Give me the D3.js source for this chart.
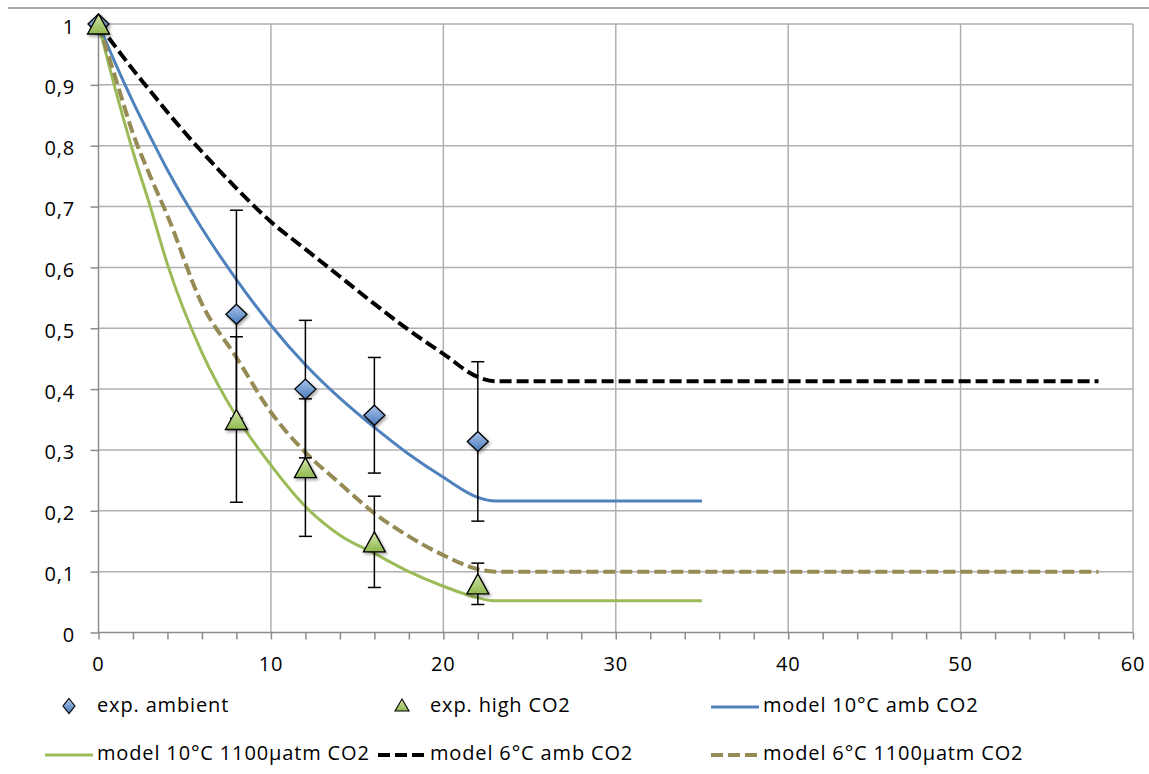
<!DOCTYPE html>
<html>
<head>
<meta charset="utf-8">
<script src="https://cdn.jsdelivr.net/npm/d3@7"></script>
<style>
  html, body { margin: 0; padding: 0; background: #fff; }
  svg { display: block; }
  text { font-family: "Open Sans", "DejaVu Sans", sans-serif; fill: #000; letter-spacing: 0.85px; }
</style>
</head>
<body>
<svg id="chart" width="1149" height="774"></svg>
<script>
// ---------- data ----------
const xTickValues = [0, 10, 20, 30, 40, 50, 60];
const xMinorTicks = d3.range(0, 61, 2);
const yTickValues = [0, 0.1, 0.2, 0.3, 0.4, 0.5, 0.6, 0.7, 0.8, 0.9, 1];
const yTickLabels = ["0", "0,1", "0,2", "0,3", "0,4", "0,5", "0,6", "0,7", "0,8", "0,9", "1"];

const expDays = [0, 8, 12, 16, 22];
const expAmbient = [1, 0.523, 0.400, 0.357, 0.314];
const expAmbientErr = [0, 0.171, 0.113, 0.095, 0.131];
const expHigh = [1, 0.350, 0.271, 0.149, 0.080];
const expHighErr = [0, 0.136, 0.113, 0.075, 0.034];

const modelDays35 = [0, 1, 2, 3, 4, 6, 8, 10, 12, 14, 16, 18, 20, 22, 23, 35];
const modelDays58 = [0, 1, 2, 3, 4, 6, 8, 10, 12, 14, 16, 18, 20, 22, 23, 58];
const model10Amb  = [1, 0.934, 0.872, 0.815, 0.760, 0.664, 0.580, 0.505, 0.440, 0.385, 0.337, 0.293, 0.255, 0.222, 0.216, 0.216];
const model10High = [1, 0.890, 0.790, 0.700, 0.605, 0.460, 0.355, 0.275, 0.207, 0.160, 0.130, 0.100, 0.076, 0.057, 0.052, 0.052];
const model6Amb   = [1, 0.962, 0.925, 0.890, 0.855, 0.790, 0.730, 0.675, 0.630, 0.585, 0.540, 0.497, 0.458, 0.420, 0.413, 0.413];
const model6High  = [1, 0.910, 0.820, 0.750, 0.685, 0.540, 0.452, 0.362, 0.296, 0.245, 0.196, 0.158, 0.127, 0.104, 0.100, 0.100];

const legendLabels = ["exp. ambient", "exp. high CO2", "model 10°C amb CO2",
                      "model 10°C 1100µatm CO2", "model 6°C amb CO2", "model 6°C 1100µatm CO2"];

// ---------- setup ----------
const svg = d3.select("#chart");
const x = d3.scaleLinear().domain([0, 60]).range([98.5, 1133]);
const y = d3.scaleLinear().domain([0, 1]).range([632.5, 24]);

const defs = svg.append("defs");
const f = defs.append("filter").attr("id", "shadow").attr("x", "-50%").attr("y", "-50%").attr("width", "200%").attr("height", "200%");
f.append("feDropShadow").attr("dx", 1.5).attr("dy", 2).attr("stdDeviation", 1.6).attr("flood-color", "#000").attr("flood-opacity", 0.35);

const gBlue = defs.append("linearGradient").attr("id", "gBlue").attr("x1", 0).attr("y1", 0).attr("x2", 0).attr("y2", 1);
gBlue.append("stop").attr("offset", "0%").attr("stop-color", "#a9c4ea");
gBlue.append("stop").attr("offset", "100%").attr("stop-color", "#4a7bbd");
const gGreen = defs.append("linearGradient").attr("id", "gGreen").attr("x1", 0).attr("y1", 0).attr("x2", 0).attr("y2", 1);
gGreen.append("stop").attr("offset", "0%").attr("stop-color", "#d3e6ac");
gGreen.append("stop").attr("offset", "100%").attr("stop-color", "#8fb84d");

// top rule
svg.append("line").attr("x1", 8).attr("x2", 1149).attr("y1", 8).attr("y2", 8)
  .attr("stroke", "#8c8c8c").attr("stroke-width", 1.5);

// gridlines
svg.append("g").selectAll("line").data(yTickValues.filter(d => d > 0)).join("line")
  .attr("x1", x(0)).attr("x2", x(60)).attr("y1", d => y(d)).attr("y2", d => y(d))
  .attr("stroke", "#b0b0b0").attr("stroke-width", 1.5);
svg.append("g").selectAll("line").data(xTickValues.filter(d => d > 0)).join("line")
  .attr("x1", d => x(d)).attr("x2", d => x(d)).attr("y1", y(1)).attr("y2", y(0))
  .attr("stroke", "#b0b0b0").attr("stroke-width", 1.5);

// axes
const xAxis = d3.axisBottom(x).tickValues(xMinorTicks).tickSize(7).tickFormat("");
const gx = svg.append("g").attr("transform", `translate(0,${y(0)})`).call(xAxis);
gx.selectAll("path,line").attr("stroke", "#8c8c8c").attr("stroke-width", 1.5);
gx.select(".domain").attr("d", `M${x(0)},0H${x(60)}`);
svg.append("g").selectAll("text").data(xTickValues).join("text")
  .attr("x", d => x(d)).attr("y", 671).attr("text-anchor", "middle")
  .attr("font-size", 20).text(d => d);

const yAxis = d3.axisLeft(y).tickValues(yTickValues).tickSize(8).tickFormat("");
const gy = svg.append("g").attr("transform", `translate(${x(0)},0)`).call(yAxis);
gy.selectAll("path,line").attr("stroke", "#8c8c8c").attr("stroke-width", 1.5);
gy.select(".domain").attr("d", `M0,${y(0)}V${y(1)}`);
svg.append("g").selectAll("text").data(yTickValues).join("text")
  .attr("x", 75).attr("y", d => y(d) + 9.5).attr("text-anchor", "end")
  .attr("font-size", 20).text((d, i) => yTickLabels[i]);

// model lines
const line = d3.line().x(d => x(d[0])).y(d => y(d[1])).curve(d3.curveMonotoneX);
const models = [
  { xs: modelDays35, ys: model10Amb,  color: "#4f81bd", w: 3, dash: null },
  { xs: modelDays35, ys: model10High, color: "#9bbb59", w: 3, dash: null },
  { xs: modelDays58, ys: model6Amb,   color: "#000000", w: 4, dash: "12,5" },
  { xs: modelDays58, ys: model6High,  color: "#968b55", w: 4, dash: "12,5" }
];
models.forEach(m => {
  svg.append("path").datum(m.xs.map((d, i) => [d, m.ys[i]]))
    .attr("d", line).attr("fill", "none").attr("stroke", m.color)
    .attr("stroke-width", m.w).attr("stroke-dasharray", m.dash);
});

// markers
const diamond = (s, h) => `M0,${-h}L${s},0L0,${h}L${-s},0Z`;
const triangle = (s, h) => `M0,${-h}L${s},${h}L${-s},${h}Z`;

function errBars(vals, errs) {
  const g = svg.append("g").attr("stroke", "#000").attr("stroke-width", 1.5);
  expDays.forEach((d, i) => {
    if (!errs[i]) return;
    const cx = x(d), t = y(vals[i] + errs[i]), b = y(vals[i] - errs[i]);
    g.append("line").attr("x1", cx).attr("x2", cx).attr("y1", t).attr("y2", b);
    g.append("line").attr("x1", cx - 6.5).attr("x2", cx + 6.5).attr("y1", t).attr("y2", t);
    g.append("line").attr("x1", cx - 6.5).attr("x2", cx + 6.5).attr("y1", b).attr("y2", b);
  });
}
errBars(expAmbient, expAmbientErr);
svg.append("g").selectAll("path").data(expDays).join("path")
  .attr("transform", (d, i) => `translate(${x(d)},${y(expAmbient[i])})`)
  .attr("d", diamond(10.5, 10)).attr("fill", "url(#gBlue)")
  .attr("stroke", "#000").attr("stroke-width", 1.3).attr("filter", "url(#shadow)");
errBars(expHigh, expHighErr);
svg.append("g").selectAll("path").data(expDays).join("path")
  .attr("transform", (d, i) => `translate(${x(d)},${y(expHigh[i])})`)
  .attr("d", triangle(11, 10)).attr("fill", "url(#gGreen)")
  .attr("stroke", "#000").attr("stroke-width", 1.3).attr("filter", "url(#shadow)");

// legend
const lg = svg.append("g");
const cols = [97, 430, 763];
const rows = [712, 760];
const legendItems = [
  { type: "diamond" }, { type: "triangle" }, { type: "line", m: models[0] },
  { type: "line", m: models[1] }, { type: "line", m: models[2] }, { type: "line", m: models[3] }
];
legendItems.forEach((it, i) => {
  const tx = cols[i % 3], ty = rows[Math.floor(i / 3)];
  if (it.type === "diamond") {
    lg.append("path").attr("transform", `translate(${tx - 28},${ty - 6})`)
      .attr("d", diamond(6, 7.5)).attr("fill", "url(#gBlue)").attr("stroke", "#000").attr("stroke-width", 1.1);
  } else if (it.type === "triangle") {
    lg.append("path").attr("transform", `translate(${tx - 28},${ty - 7})`)
      .attr("d", triangle(7, 6)).attr("fill", "url(#gGreen)").attr("stroke", "#000").attr("stroke-width", 1.1);
  } else {
    lg.append("line").attr("x1", tx - 52).attr("x2", tx - 4).attr("y1", ty - 5).attr("y2", ty - 5)
      .attr("stroke", it.m.color).attr("stroke-width", it.m.w).attr("stroke-dasharray", it.m.dash);
  }
  lg.append("text").attr("x", tx).attr("y", ty).attr("font-size", 20).text(legendLabels[i]);
});
</script>
</body>
</html>
